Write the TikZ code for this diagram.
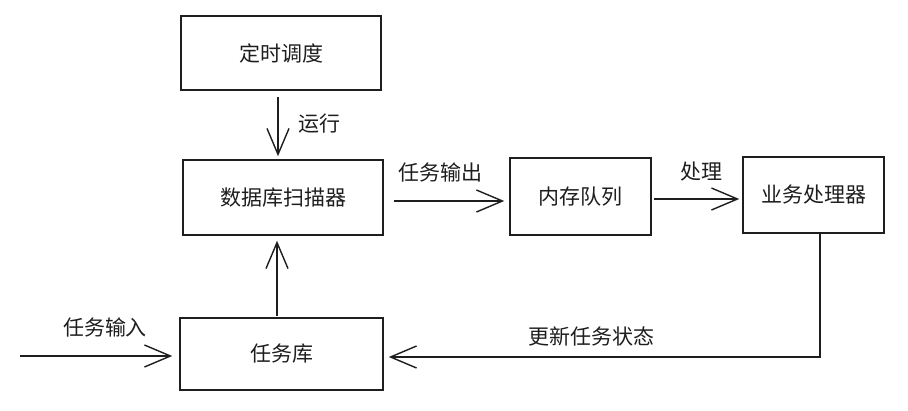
\documentclass[tikz,border=0pt]{standalone}
\usepackage{fontspec}
\setmainfont{Noto Sans CJK SC}
\usetikzlibrary{arrows.meta}
\definecolor{ink}{HTML}{1E1E1E}
\begin{document}
\begin{tikzpicture}[x=1pt,y=-1pt,
  box/.style={draw=ink, line width=1.5pt, inner sep=0pt, text=ink, font=\fontsize{21}{25}\selectfont},
  lbl/.style={text=ink, inner sep=0pt, font=\fontsize{21}{25}\selectfont},
  arr/.style={draw=ink, line width=1.4pt, -{Straight Barb[length=26pt,width=22pt,line width=1.4pt]}}]
\useasboundingbox[fill=white] (0,0) rectangle (908,410);
\node[box, minimum width=200pt, minimum height=74pt] (timer) at (281,53) {定时调度};
\node[box, minimum width=200pt, minimum height=75pt] (scanner) at (283,197.5) {数据库扫描器};
\node[box, minimum width=141pt, minimum height=77pt] (queue) at (580.5,196.5) {内存队列};
\node[box, minimum width=141pt, minimum height=76pt] (biz) at (813.5,195) {业务处理器};
\node[box, minimum width=203pt, minimum height=72pt] (store) at (281.5,354) {任务库};
\coordinate (in) at (20,356);
% connectors
\draw[arr, shorten <=6pt, shorten >=3pt] ([xshift=-3pt]timer.south) -- ([xshift=-5pt]scanner.north);
\draw[arr, shorten <=10pt, shorten >=5pt] ([yshift=-3.5pt]scanner.east) -- ([yshift=-4.5pt]queue.west);
\draw[arr, shorten <=2pt, shorten >=3pt] ([yshift=-2.5pt]queue.east) -- ([yshift=-4pt]biz.west);
\draw[arr, shorten <=1pt, shorten >=5pt] ([xshift=-4.5pt]store.north) -- ([xshift=-6pt]scanner.south);
\draw[arr, shorten >=7pt] (in) -- (store.west |- in);
\draw[arr, shorten >=5pt] ([xshift=6.5pt]biz.south) |- ([yshift=-3pt]store.east);
% labels
\node[lbl] (l1) at (319,124) {运行};
\node[lbl] (l2) at (440,172) {任务输出};
\node[lbl] (l3) at (701,172) {处理};
\node[lbl] (l4) at (105,327) {任务输入};
\node[lbl] (l5) at (591,336) {更新任务状态};
\end{tikzpicture}
\end{document}
